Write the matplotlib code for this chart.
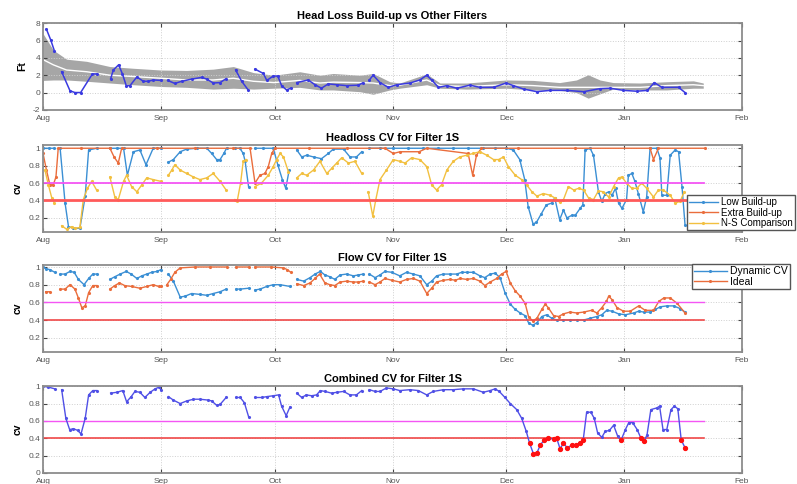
import numpy as np
import matplotlib
matplotlib.use("Agg")
import matplotlib.pyplot as plt

plt.rcParams['font.family'] = ['Liberation Sans', 'DejaVu Sans']

nan = np.nan

# x axis: days counted from Aug 1
month_pos = [0, 31, 61, 92, 122, 153, 184]
month_lbl = ['Aug', 'Sep', 'Oct', 'Nov', 'Dec', 'Jan', 'Feb']

# limit lines (CV panels)
cv_hi = 0.6
cv_lo = 0.4
limit_end = 174

# PANEL 1 - head loss vs other filters ---------------------------------------
hl_day = [0.9, 2.0, 3.0, nan,
          4.9, 7.1, 8.4, 9.9, 13.0, 14.1, nan,
          17.8, 18.5, 19.9, 20.9, 21.9, 22.9, 24.7, 26.4, 27.7, 29.0, 31.0, nan,
          32.8, 34.7, 36.5, 39.1, 41.8, 43.1, 44.8, 46.6, 48.2, nan,
          50.7, 52.3, 54.0, nan,
          55.8, 58.0, 58.9, 60.6, 61.8, 62.8, 64.1, 65.2, nan,
          66.8, 69.8, 71.6, 73.3, 75.1, 77.3, 79.9, 83.0, 84.1, nan,
          85.9, 86.9, 88.7, 90.9, 93.1, 96.6, 99.2, 101.0, 102.3, 104.1,
          106.3, 108.9, 112.4, 115.0, 118.6, 121.9, 123.8, 126.5, 130.0, 133.5,
          137.9, 142.3, 146.6, 149.3, 152.8, 156.3, 159.1, 160.9, 162.9, 167.3, 169.0]
hl_val = [7.3, 6.1, 4.8, nan,
          2.4, 0.2, 0.0, 0.0, 2.15, 2.15, nan,
          1.6, 2.6, 3.2, 2.15, 0.8, 0.8, 1.8, 1.3, 1.3, 1.45, 1.4, nan,
          1.4, 1.05, 1.3, 1.55, 1.75, 1.55, 1.1, 1.15, 1.6, nan,
          2.6, 1.3, 0.3, nan,
          2.7, 2.2, 1.4, 1.9, 1.9, 0.8, 0.3, 0.5, nan,
          1.15, 1.45, 0.9, 0.5, 1.0, 0.9, 0.8, 0.85, 1.1, nan,
          1.45, 2.0, 1.15, 0.6, 0.9, 1.1, 1.45, 2.0, 1.45, 0.6,
          0.8, 0.5, 0.85, 0.6, 0.6, 1.1, 0.8, 0.4, 0.1, 0.25,
          0.25, 0.1, 0.45, 0.5, 0.25, 0.15, 0.25, 1.15, 0.6, 0.6, 0.0]

band_day = [0, 2.7, 6.2, 11.5, 17.6, 23.8, 31, 37.8, 44.8, 50.1, 55.4, 60.8, 67.6,
            72.9, 76.4, 83.4, 86.9, 91.3, 93.9, 101, 104.5, 111.5, 122, 129, 136,
            140.4, 143.5, 146.6, 150.1, 157.2, 164.2, 171.2, 173.8]
band_hi = [6.8, 4.9, 3.85, 3.6, 3.0, 2.8, 2.6, 2.55, 2.7, 3.0, 2.3, 2.0, 2.4,
           2.0, 2.2, 2.0, 2.2, 1.25, 1.1, 2.15, 1.1, 1.1, 1.45, 1.4, 1.15,
           1.45, 2.05, 1.45, 1.15, 1.1, 1.25, 1.35, 1.1]
band_mid = [3.8, 3.2, 2.6, 2.4, 2.0, 1.85, 1.65, 1.45, 1.45, 1.65, 1.3, 1.15, 1.4,
            1.1, 1.2, 1.15, 1.1, 0.8, 0.85, 1.45, 0.8, 0.7, 0.9, 0.8, 0.6,
            0.6, 0.6, 0.6, 0.6, 0.6, 0.8, 0.9, 0.8]
band_lo = [1.4, 1.45, 1.45, 1.3, 1.1, 0.9, 0.7, 0.6, 0.4, 0.5, 0.4, 0.5, 0.6,
           0.3, 0.3, 0.1, -0.2, 0.3, 0.5, 0.9, 0.5, 0.4, 0.5, 0.3, 0.25,
           0.0, -0.65, -0.15, 0.4, 0.3, 0.3, 0.5, 0.5]

# PANEL 2 - headloss CV ------------------------------------------------------
lb_day = [0, 1.5, 3.0, nan,
          4.5, 5.8, 6.7, 8.0, 9.7, 11.1, 12.0, 14.1, nan,
          17.6, 19.5, 21.2, 22.2, 23.8, 25.5, 27.1, 29.0, 31.0, nan,
          33.0, 34.3, 36.1, 37.8, 40.4, 43.1, 44.4, 45.7, 46.6, 47.6, 48.3, nan,
          50.5, 51.8, 52.7, 53.2, 54.1, nan,
          55.8, 58.0, 60.6, 61.8, 63.0, 63.9, 64.8, nan,
          66.8, 68.1, 69.4, 71.2, 73.3, 75.1, 76.4, 79.1, 80.8, 82.5, 83.9, nan,
          85.9, 88.7, 92.0, 96.0, 100.0, 104.0, 108.0, 112.0, 115.9, 119.0,
          122.0, 123.8, 125.5, 126.8, 127.7, 129.0, 129.9, 131.2, 132.5, 133.9,
          134.7, 136.0, 137.0, 137.9, 139.2, 140.1, 141.4, 142.1, 142.7, 144.0,
          144.9, 146.2, 147.1, 148.0, 148.9, 149.8, 150.7, 151.5, 152.4, 153.6,
          154.1, 155.0, 155.8, 156.7, 158.0, 158.9, 159.8, 161.6, 162.4, 162.9,
          164.2, 165.1, 166.4, 167.3, 168.2, 169.0]
lb_val = [1, 1, 1, nan,
          1, 0.37, 0.1, 0.08, 0.08, 0.45, 0.98, 1, nan,
          1, 1, 1, 0.69, 0.96, 0.98, 0.81, 1, 1, nan,
          0.84, 0.87, 0.96, 0.99, 1, 1, 0.94, 0.87, 0.87, 0.94, 1, nan,
          1, 1, 0.94, 0.85, 0.56, nan,
          1, 1, 1, 0.81, 0.64, 0.54, 0.75, nan,
          0.98, 0.9, 0.92, 0.9, 0.88, 0.94, 0.99, 0.99, 0.9, 0.9, 0.96, nan,
          1, 1, 1, 1, 1, 1, 1, 1, 1, 1,
          1, 0.98, 0.87, 0.64, 0.33, 0.13, 0.15, 0.25, 0.35, 0.37,
          0.43, 0.18, 0.29, 0.2, 0.23, 0.23, 0.31, 0.35, 0.98, 1,
          0.92, 0.5, 0.39, 0.48, 0.5, 0.46, 0.54, 0.37, 0.31, 0.41,
          0.69, 0.71, 0.62, 0.48, 0.27, 0.44, 1, 1, 0.89, 0.46,
          0.46, 0.92, 0.98, 0.96, 0.56, 0.12]

eb_day = [0, 0.9, 1.8, 2.7, 3.4, 4.0, 10, 17.6, 18.7, 19.8, 20.7, 30, 40, 50,
          54.5, 55.8, 57.1, 58.4, 59.3, 60.2, 61.0, 70, 80, 90, 92.2, 94, 99,
          101, 111.9, 113.1, 114.1, 115.4, 125, 140, 159.8, 160.7, 162.0, 174.2]
eb_val = [0.94, 0.75, 0.58, 0.58, 0.67, 1, 1, 1, 0.9, 0.83, 1, 1, 1, 1,
          1, 0.6, 0.69, 0.71, 0.79, 0.94, 1, 1, 1, 1, 0.94, 0.96, 0.96,
          1, 0.94, 0.69, 0.92, 1, 1, 1, 1, 0.87, 1, 1]

ns_day = [0.5, 1.4, 2.3, 3.0, nan,
          4.9, 6.2, 7.5, 8.4, 9.7, 10.6, 11.7, 12.8, 14.1, nan,
          17.6, 18.9, 19.8, 21.2, 22.0, 23.3, 24.7, 26.0, 27.3, 29.0, 31.0, nan,
          33.0, 33.9, 34.7, 36.1, 37.8, 39.6, 41.3, 43.1, 44.8, 46.6, 48.2, nan,
          50.5, 51.1, 52.0, 52.7, 53.4, nan,
          55.8, 57.5, 59.3, 60.6, 61.5, 62.4, 63.3, 64.6, nan,
          66.8, 68.1, 69.4, 71.2, 72.9, 74.7, 76.0, 77.3, 78.6, 80.4, 82.1, 83.9, nan,
          85.6, 86.8, 87.6, 88.7, 90.4, 92.2, 93.9, 95.3, 97.0, 99.2,
          101.0, 102.3, 103.6, 104.9, 106.3, 108.0, 109.7, 111.5, 113.2, 115.0,
          116.8, 118.6, 119.9, 121.2, 122.5, 124.3, 126.0, 127.3, 128.7, 130.0,
          131.7, 133.5, 134.7, 136.0, 137.0, 138.3, 139.7, 141.0, 142.3, 143.6,
          144.9, 146.2, 147.5, 148.9, 150.2, 151.5, 152.4, 153.6, 155.0, 156.3,
          157.6, 158.9, 160.7, 162.0, 163.3, 165.1, 166.4, 167.7, 168.8]
ns_val = [0.75, 0.58, 0.43, 0.37, nan,
          0.11, 0.07, 0.1, 0.08, 0.09, 0.41, 0.54, 0.62, 0.52, nan,
          0.67, 0.44, 0.41, 0.62, 0.69, 0.56, 0.5, 0.58, 0.66, 0.64, 0.62, nan,
          0.69, 0.75, 0.81, 0.75, 0.71, 0.67, 0.64, 0.66, 0.71, 0.62, 0.52, nan,
          0.41, 0.39, 0.6, 0.85, 0.87, nan,
          0.56, 0.6, 0.69, 0.79, 0.87, 0.94, 0.9, 0.73, nan,
          0.66, 0.71, 0.69, 0.75, 0.85, 0.71, 0.77, 0.83, 0.89, 0.83, 0.85, 0.71, nan,
          0.5, 0.22, 0.41, 0.64, 0.75, 0.87, 0.85, 0.83, 0.89, 0.87,
          0.79, 0.58, 0.52, 0.58, 0.75, 0.85, 0.9, 0.92, 0.94, 0.96,
          0.92, 0.87, 0.87, 0.9, 0.79, 0.69, 0.64, 0.58, 0.5, 0.45,
          0.48, 0.46, 0.43, 0.38, 0.41, 0.56, 0.52, 0.54, 0.52, 0.43,
          0.41, 0.51, 0.5, 0.44, 0.56, 0.66, 0.67, 0.6, 0.54, 0.54,
          0.6, 0.54, 0.44, 0.52, 0.52, 0.46, 0.37, 0.39, 0.5]

# PANEL 3 - flow CV ----------------------------------------------------------
dc_day = [0, 0.9, 1.8, 3.1, nan,
          4.5, 5.8, 7.1, 8.2, 9.3, 10.8, 12.0, 13.1, 14.1, nan,
          17.6, 18.9, 20.3, 21.9, 23.2, 24.7, 26.0, 27.3, 28.6, 30.0, 31.0, nan,
          33.0, 34.3, 36.1, 37.4, 39.1, 41.3, 43.1, 44.8, 46.6, 48.2, nan,
          50.8, 51.9, 54.1, nan,
          55.8, 57.1, 58.9, 60.6, 62.4, 65.0, nan,
          66.8, 68.6, 70.3, 71.6, 73.0, 74.2, 75.5, 76.8, 78.2, 79.9, 81.7, 83.0, 84.3, nan,
          85.9, 87.4, 88.7, 90.0, 91.8, 93.9, 95.7, 97.5, 99.2, 101.0,
          102.3, 103.6, 105.4, 107.2, 108.9, 110.2, 111.5, 113.3, 115.0, 116.3,
          117.7, 119.0, 120.3, 121.6, 123.0, 124.3, 125.6, 126.9, 127.8, 128.9,
          130.0, 131.3, 132.6, 133.9, 135.2, 137.0, 138.7, 140.5, 142.3, 144.0,
          145.8, 147.1, 148.4, 149.8, 151.5, 153.3, 155.5, 156.8, 158.1, 159.8,
          161.2, 162.5, 164.2, 166.0, 167.7, 169.0]
dc_val = [1, 0.98, 0.97, 0.94, nan,
          0.92, 0.92, 0.95, 0.94, 0.86, 0.8, 0.87, 0.92, 0.92, nan,
          0.86, 0.89, 0.92, 0.95, 0.92, 0.87, 0.9, 0.92, 0.94, 0.95, 0.97, nan,
          0.92, 0.84, 0.66, 0.67, 0.7, 0.69, 0.68, 0.7, 0.72, 0.75, nan,
          0.75, 0.75, 0.76, nan,
          0.74, 0.75, 0.78, 0.8, 0.8, 0.78, nan,
          0.86, 0.84, 0.88, 0.92, 0.95, 0.91, 0.89, 0.86, 0.91, 0.92, 0.9, 0.91, 0.92, nan,
          0.92, 0.88, 0.91, 0.95, 0.94, 0.9, 0.94, 0.92, 0.9, 0.8,
          0.84, 0.9, 0.92, 0.92, 0.92, 0.94, 0.94, 0.94, 0.9, 0.88,
          0.92, 0.93, 0.88, 0.71, 0.58, 0.52, 0.48, 0.45, 0.37, 0.34,
          0.37, 0.44, 0.46, 0.42, 0.4, 0.4, 0.4, 0.4, 0.4, 0.42,
          0.44, 0.46, 0.51, 0.5, 0.47, 0.46, 0.48, 0.5, 0.49, 0.49,
          0.52, 0.55, 0.56, 0.56, 0.53, 0.49]

id_day = [0.7, 1.8, nan,
          4.5, 5.8, 7.1, 8.4, 9.3, 10.2, 11.1, 12.0, 13.1, 14.1, nan,
          17.6, 18.9, 20.1, 21.5, 23.3, 25.5, 27.3, 29.0, 30.4, 31.0, nan,
          32.6, 33.6, 34.7, 36.1, 40, 44, 48.3, nan,
          50.8, 54.1, nan,
          55.8, 60, 63.3, 64.3, 65.2, nan,
          66.8, 68.6, 70.3, 71.6, 72.8, 74.2, 75.5, 76.8, 78.2, 79.9, 81.7, 83.0, 84.3, nan,
          85.9, 87.4, 88.7, 90.0, 91.8, 93.9, 95.7, 97.5, 99.2, 101.0,
          102.3, 103.6, 105.4, 107.2, 108.5, 109.8, 111.5, 113.3, 115.0, 116.3,
          117.7, 119.4, 120.7, 121.9, 123.0, 124.3, 125.6, 126.9, 127.8, 128.9,
          130.0, 131.3, 132.2, 133.0, 134.4, 135.7, 137.0, 138.7, 140.5, 142.3,
          144.4, 145.8, 147.1, 148.3, 148.9, 149.8, 151.1, 152.8, 154.6, 156.8,
          158.5, 160.7, 162.1, 163.4, 165.1, 166.9, 169.0]
id_val = [0.72, 0.72, nan,
          0.75, 0.75, 0.8, 0.75, 0.65, 0.54, 0.56, 0.71, 0.79, 0.79, nan,
          0.75, 0.79, 0.82, 0.79, 0.78, 0.76, 0.78, 0.8, 0.78, 0.78, nan,
          0.8, 0.86, 0.94, 0.99, 1, 1, 1, nan,
          1, 1, nan,
          1, 1, 0.99, 0.97, 0.94, nan,
          0.81, 0.79, 0.82, 0.87, 0.92, 0.82, 0.8, 0.79, 0.83, 0.84, 0.83, 0.83, 0.84, nan,
          0.83, 0.8, 0.83, 0.87, 0.85, 0.83, 0.86, 0.87, 0.84, 0.7,
          0.76, 0.83, 0.85, 0.86, 0.85, 0.87, 0.86, 0.87, 0.84, 0.79,
          0.83, 0.87, 0.92, 0.95, 0.82, 0.73, 0.67, 0.59, 0.44, 0.39,
          0.42, 0.52, 0.58, 0.54, 0.45, 0.44, 0.47, 0.49, 0.48, 0.49,
          0.51, 0.48, 0.54, 0.61, 0.67, 0.63, 0.54, 0.5, 0.5, 0.56,
          0.51, 0.51, 0.61, 0.65, 0.65, 0.59, 0.48]

# PANEL 4 - combined CV ------------------------------------------------------
cb_day = [0, 1.4, 3.1, nan,
          4.9, 6.0, 7.0, 8.0, 9.1, 10.0, 11.1, 12.0, 13.1, 14.1, nan,
          17.8, 19.4, 21.0, 22.0, 23.2, 24.2, 25.5, 26.8, 28.2, 29.5, 30.6, 31.0, nan,
          33.0, 34.3, 36.1, 37.8, 39.6, 41.3, 43.5, 44.4, 45.7, 46.6, 48.2, nan,
          50.8, 51.9, 53.0, 54.1, nan,
          55.8, 57.6, 58.9, 60.6, 62.0, 62.8, 64.0, 65.0, nan,
          66.8, 68.1, 69.3, 70.7, 72.0, 73.0, 74.2, 76.0, 77.3, 79.1, 80.8, 82.5, 83.9, nan,
          85.9, 87.4, 88.7, 90.4, 92.2, 93.9, 96.6, 98.8, 101.0, 102.7,
          105.4, 108.0, 110.6, 113.3, 115.9, 117.7, 119.0, 120.1, 121.6, 123.0,
          124.7, 126.0, 127.2, 128.1, 129.1, 130.0, 130.9, 131.9, 133.0, 134.4,
          135.2, 136.1, 137.0, 138.0, 139.2, 140.3, 141.4, 142.2, 143.1, 144.2,
          145.1, 146.0, 147.1, 148.0, 149.1, 150.2, 151.3, 152.2, 153.3, 154.2,
          155.2, 156.4, 157.4, 158.3, 159.0, 160.0, 161.6, 162.3, 163.2, 164.2,
          165.3, 166.2, 167.1, 168.0, 169.0]
cb_val = [1, 0.99, 0.97, nan,
          0.96, 0.63, 0.5, 0.51, 0.49, 0.45, 0.63, 0.9, 0.95, 0.95, nan,
          0.92, 0.93, 0.95, 0.82, 0.88, 0.94, 0.93, 0.87, 0.93, 0.97, 0.99, 0.96, nan,
          0.88, 0.84, 0.8, 0.83, 0.85, 0.85, 0.84, 0.83, 0.78, 0.79, 0.87, nan,
          0.87, 0.87, 0.81, 0.65, nan,
          0.87, 0.87, 0.88, 0.89, 0.9, 0.77, 0.66, 0.76, nan,
          0.92, 0.87, 0.9, 0.89, 0.9, 0.95, 0.94, 0.92, 0.93, 0.94, 0.9, 0.9, 0.95, nan,
          0.96, 0.94, 0.94, 0.98, 0.97, 0.95, 0.96, 0.95, 0.9, 0.94,
          0.96, 0.96, 0.97, 0.97, 0.93, 0.95, 0.97, 0.94, 0.87, 0.8,
          0.73, 0.63, 0.48, 0.34, 0.22, 0.23, 0.32, 0.38, 0.4, 0.39,
          0.4, 0.28, 0.34, 0.29, 0.32, 0.32, 0.35, 0.38, 0.7, 0.7,
          0.63, 0.46, 0.41, 0.48, 0.49, 0.55, 0.42, 0.38, 0.5, 0.58,
          0.58, 0.5, 0.4, 0.37, 0.44, 0.73, 0.75, 0.77, 0.5, 0.5,
          0.73, 0.77, 0.74, 0.38, 0.29]

# colours
c_blue = '#3a3ae0'
c_lb = '#3b8fd4'
c_eb = '#ea6d3c'
c_ns = '#f2c040'
c_mag = '#f455f4'
c_red = '#ff5a5a'


def style(ax, ylab, yticks, ylim):
    ax.set_xlim(0, 184)
    ax.set_ylim(*ylim)
    ax.set_xticks(month_pos)
    ax.set_xticklabels(month_lbl)
    ax.set_yticks(yticks)
    ax.set_yticklabels(['%g' % t for t in yticks])
    ax.grid(True, color='#cfcfcf', linestyle=':', linewidth=0.7)
    ax.tick_params(direction='in', top=True, right=True, labelsize=6,
                   labelcolor='#555555', color='#444444', length=3, pad=2)
    ax.tick_params(axis='x', pad=3.5)
    for s in ax.spines.values():
        s.set_color('#8c8c8c')
        s.set_linewidth(1.3)
    ax.set_ylabel(ylab, fontsize=7.5, fontweight='bold', labelpad=4)


fig = plt.figure(figsize=(7.97, 4.84), dpi=100)
L, W, H = 0.054, 0.877, 0.179
ax1 = fig.add_axes([L, 0.773, W, H])
ax2 = fig.add_axes([L, 0.521, W, H])
ax3 = fig.add_axes([L, 0.273, W, H])
ax4 = fig.add_axes([L, 0.023, W, H])

# panel 1
ax1.fill_between(band_day, band_lo, band_hi, color='#a6a6a6', linewidth=0)
ax1.plot(band_day, band_mid, color='white', linewidth=1.0)
ax1.plot(hl_day, hl_val, '.-', color=c_blue, linewidth=1.1, markersize=2.5)
style(ax1, 'Ft', [-2, 0, 2, 4, 6, 8], (-2, 8))
ax1.set_title('Head Loss Build-up vs Other Filters', fontsize=8, fontweight='bold', pad=3)

# panel 2
ax2.plot(lb_day, lb_val, '.-', color=c_lb, linewidth=1.0, markersize=2.5, label='Low Build-up')
ax2.plot(eb_day, eb_val, '.-', color=c_eb, linewidth=1.0, markersize=2.5, label='Extra Build-up')
ax2.plot(ns_day, ns_val, '.-', color=c_ns, linewidth=1.0, markersize=2.5, label='N-S Comparison')
ax2.plot([0, limit_end], [cv_hi, cv_hi], color=c_mag, linewidth=1.3)
ax2.plot([0, limit_end], [cv_lo, cv_lo], color=c_red, linewidth=2.0)
style(ax2, 'cv', [0.2, 0.4, 0.6, 0.8, 1], (0.04, 1.035))
ax2.set_title('Headloss CV for Filter 1S', fontsize=8, fontweight='bold', pad=3)
ax2.legend(loc='lower left', bbox_to_anchor=(0.921, 0.02), fontsize=7,
           frameon=True, fancybox=False, edgecolor='#555555', framealpha=1,
           borderpad=0.2, labelspacing=0.05, handlelength=3.0, handletextpad=0.3,
           borderaxespad=0)

# panel 3
ax3.plot(dc_day, dc_val, '.-', color=c_lb, linewidth=1.0, markersize=2.5, label='Dynamic CV')
ax3.plot(id_day, id_val, '.-', color=c_eb, linewidth=1.0, markersize=2.5, label='Ideal')
ax3.plot([0, limit_end], [cv_hi, cv_hi], color=c_mag, linewidth=1.0)
ax3.plot([0, limit_end], [cv_lo, cv_lo], color='#f04848', linewidth=1.2)
style(ax3, 'cv', [0.2, 0.4, 0.6, 0.8, 1], (0.04, 1.02))
ax3.set_title('Flow CV for Filter 1S', fontsize=8, fontweight='bold', pad=3)
ax3.legend(loc='upper left', bbox_to_anchor=(0.928, 1.01), fontsize=7.5,
           frameon=True, fancybox=False, edgecolor='#555555', framealpha=1,
           borderpad=0.2, labelspacing=0.05, handlelength=3.2, handletextpad=0.3,
           borderaxespad=0)

# panel 4 - red dots where the combined CV falls to the lower limit
cb_d = np.array(cb_day)
cb_v = np.array(cb_val)
low = cb_v <= cv_lo
ax4.plot([0, limit_end], [cv_hi, cv_hi], color=c_mag, linewidth=1.0)
ax4.plot([0, limit_end], [cv_lo, cv_lo], color='#f04848', linewidth=1.2)
ax4.plot(cb_d, cb_v, '.-', color='#5050e6', linewidth=1.0, markersize=2.5)
ax4.plot(cb_d[low], cb_v[low], 'o', color='#ff1010', markersize=2.8)
style(ax4, 'cv', [0, 0.2, 0.4, 0.6, 0.8, 1], (0, 1))
ax4.set_title('Combined CV for Filter 1S', fontsize=8, fontweight='bold', pad=3)

fig.savefig('out.png', dpi=100)
